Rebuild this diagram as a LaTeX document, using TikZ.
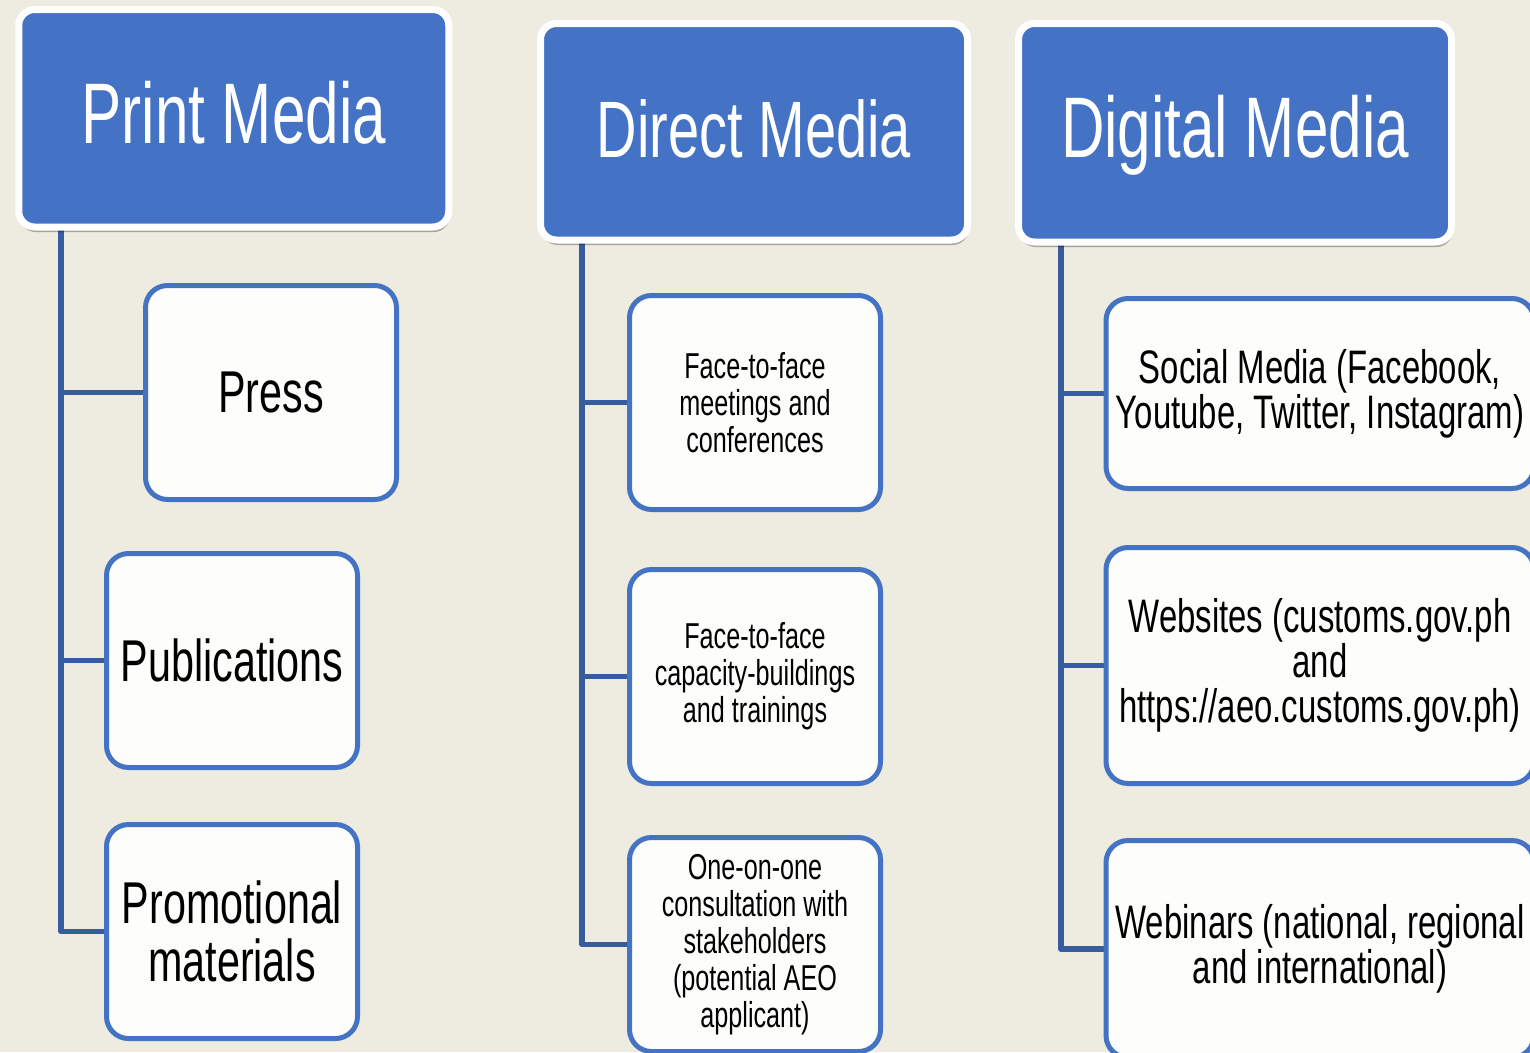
\documentclass[tikz,border=0pt]{standalone}
\usepackage{fontspec}
\setmainfont{Liberation Sans}[FakeStretch=0.7]
\usetikzlibrary{shadows}
\definecolor{bgc}{HTML}{EEEBE1}
\definecolor{hdrblue}{HTML}{4472C4}
\definecolor{boxblue}{HTML}{4573C4}
\definecolor{connblue}{HTML}{375D9F}
\definecolor{boxfill}{HTML}{FDFDFC}
\pgfdeclarelayer{bglayer}
\pgfdeclarelayer{lineslayer}
\pgfsetlayers{bglayer,lineslayer,main}
\begin{document}
\begin{tikzpicture}[x=1pt,y=-1pt,
  hdr/.style={rectangle, rounded corners=16pt, fill=hdrblue, draw=white, line width=7pt,
    text=white, inner sep=0pt,
    drop shadow={shadow xshift=1pt, shadow yshift=-5pt, opacity=0.3, fill=black}},
  childbox/.style={rectangle, rounded corners=22pt, fill=boxfill, draw=boxblue, line width=5pt,
    inner sep=0pt, align=center, text=black},
  conn/.style={draw=connblue, line width=5.5pt, line join=round},
  bigtxt/.style={font=\fontsize{59pt}{58pt}\selectfont},
  midtxt/.style={font=\fontsize{36pt}{37pt}\selectfont},
  digtxt/.style={font=\fontsize{47pt}{45pt}\selectfont}]
\useasboundingbox (0,0) rectangle (1530,1052);
\clip (0,0) rectangle (1530,1052);
\begin{pgfonlayer}{bglayer}
\fill[bgc] (0,0) rectangle (1530,1052);
\end{pgfonlayer}

% headers
\node[hdr, minimum width=430pt, minimum height=217.5pt, font=\fontsize{86pt}{86pt}\selectfont,
  text height=61.6pt, text depth=10.5pt] (print) at (233.75,118.25) {Print Media};
\node[hdr, minimum width=427pt, minimum height=216.5pt, font=\fontsize{80pt}{80pt}\selectfont,
  text height=57.3pt, text depth=6.5pt] (direct) at (754,131.75) {Direct Media};
\node[hdr, minimum width=433pt, minimum height=218.5pt, font=\fontsize{86pt}{86pt}\selectfont,
  text height=61.6pt, text depth=11.5pt] (digital) at (1235,132.75) {Digital Media};

% trunk start points
\coordinate (pv) at (61,227);
\coordinate (dv) at (582,239);
\coordinate (gv) at (1061,241);

% print children
\node[childbox, bigtxt, minimum width=251pt, minimum height=214pt] (press) at (271,392.5) {Press};
\node[childbox, bigtxt, minimum width=251pt, minimum height=214pt] (pub) at (232,660.5) {Publications};
\node[childbox, bigtxt, minimum width=251pt, minimum height=214pt] (promo) at (232,931.5) {Promotional\\materials};

% direct children
\node[childbox, midtxt, minimum width=251pt, minimum height=214pt] (meet) at (755,402.5) {Face-to-face\\meetings and\\conferences};
\node[childbox, midtxt, minimum width=251pt, minimum height=214pt] (cap) at (755,676.5) {Face-to-face\\capacity-buildings\\and trainings};
\node[childbox, midtxt, minimum width=251pt, minimum height=214pt] (one) at (755,944.5) {One-on-one\\consultation with\\stakeholders\\(potential AEO\\applicant)};

% digital children
\node[childbox, digtxt, minimum width=428pt, minimum height=190pt] (soc) at (1320,393.5) {Social Media (Facebook,\\Youtube, Twitter, Instagram)};
\node[childbox, digtxt, minimum width=428pt, minimum height=236pt] (web) at (1320,665.5) {Websites (customs.gov.ph\\and\\https://aeo.customs.gov.ph)};
\node[childbox, digtxt, minimum width=428pt, minimum height=217pt] (webi) at (1320,949) {Webinars (national, regional\\and international)};

% connectors
\begin{pgfonlayer}{lineslayer}
\draw[conn] (pv) |- (press.west);
\draw[conn] (pv) |- (pub.west);
\draw[conn] (pv) |- (promo.west);
\draw[conn] (dv) |- (meet.west);
\draw[conn] (dv) |- (cap.west);
\draw[conn] (dv) |- (one.west);
\draw[conn] (gv) |- (soc.west);
\draw[conn] (gv) |- (web.west);
\draw[conn] (gv) |- (webi.west);
\end{pgfonlayer}
\end{tikzpicture}
\end{document}
